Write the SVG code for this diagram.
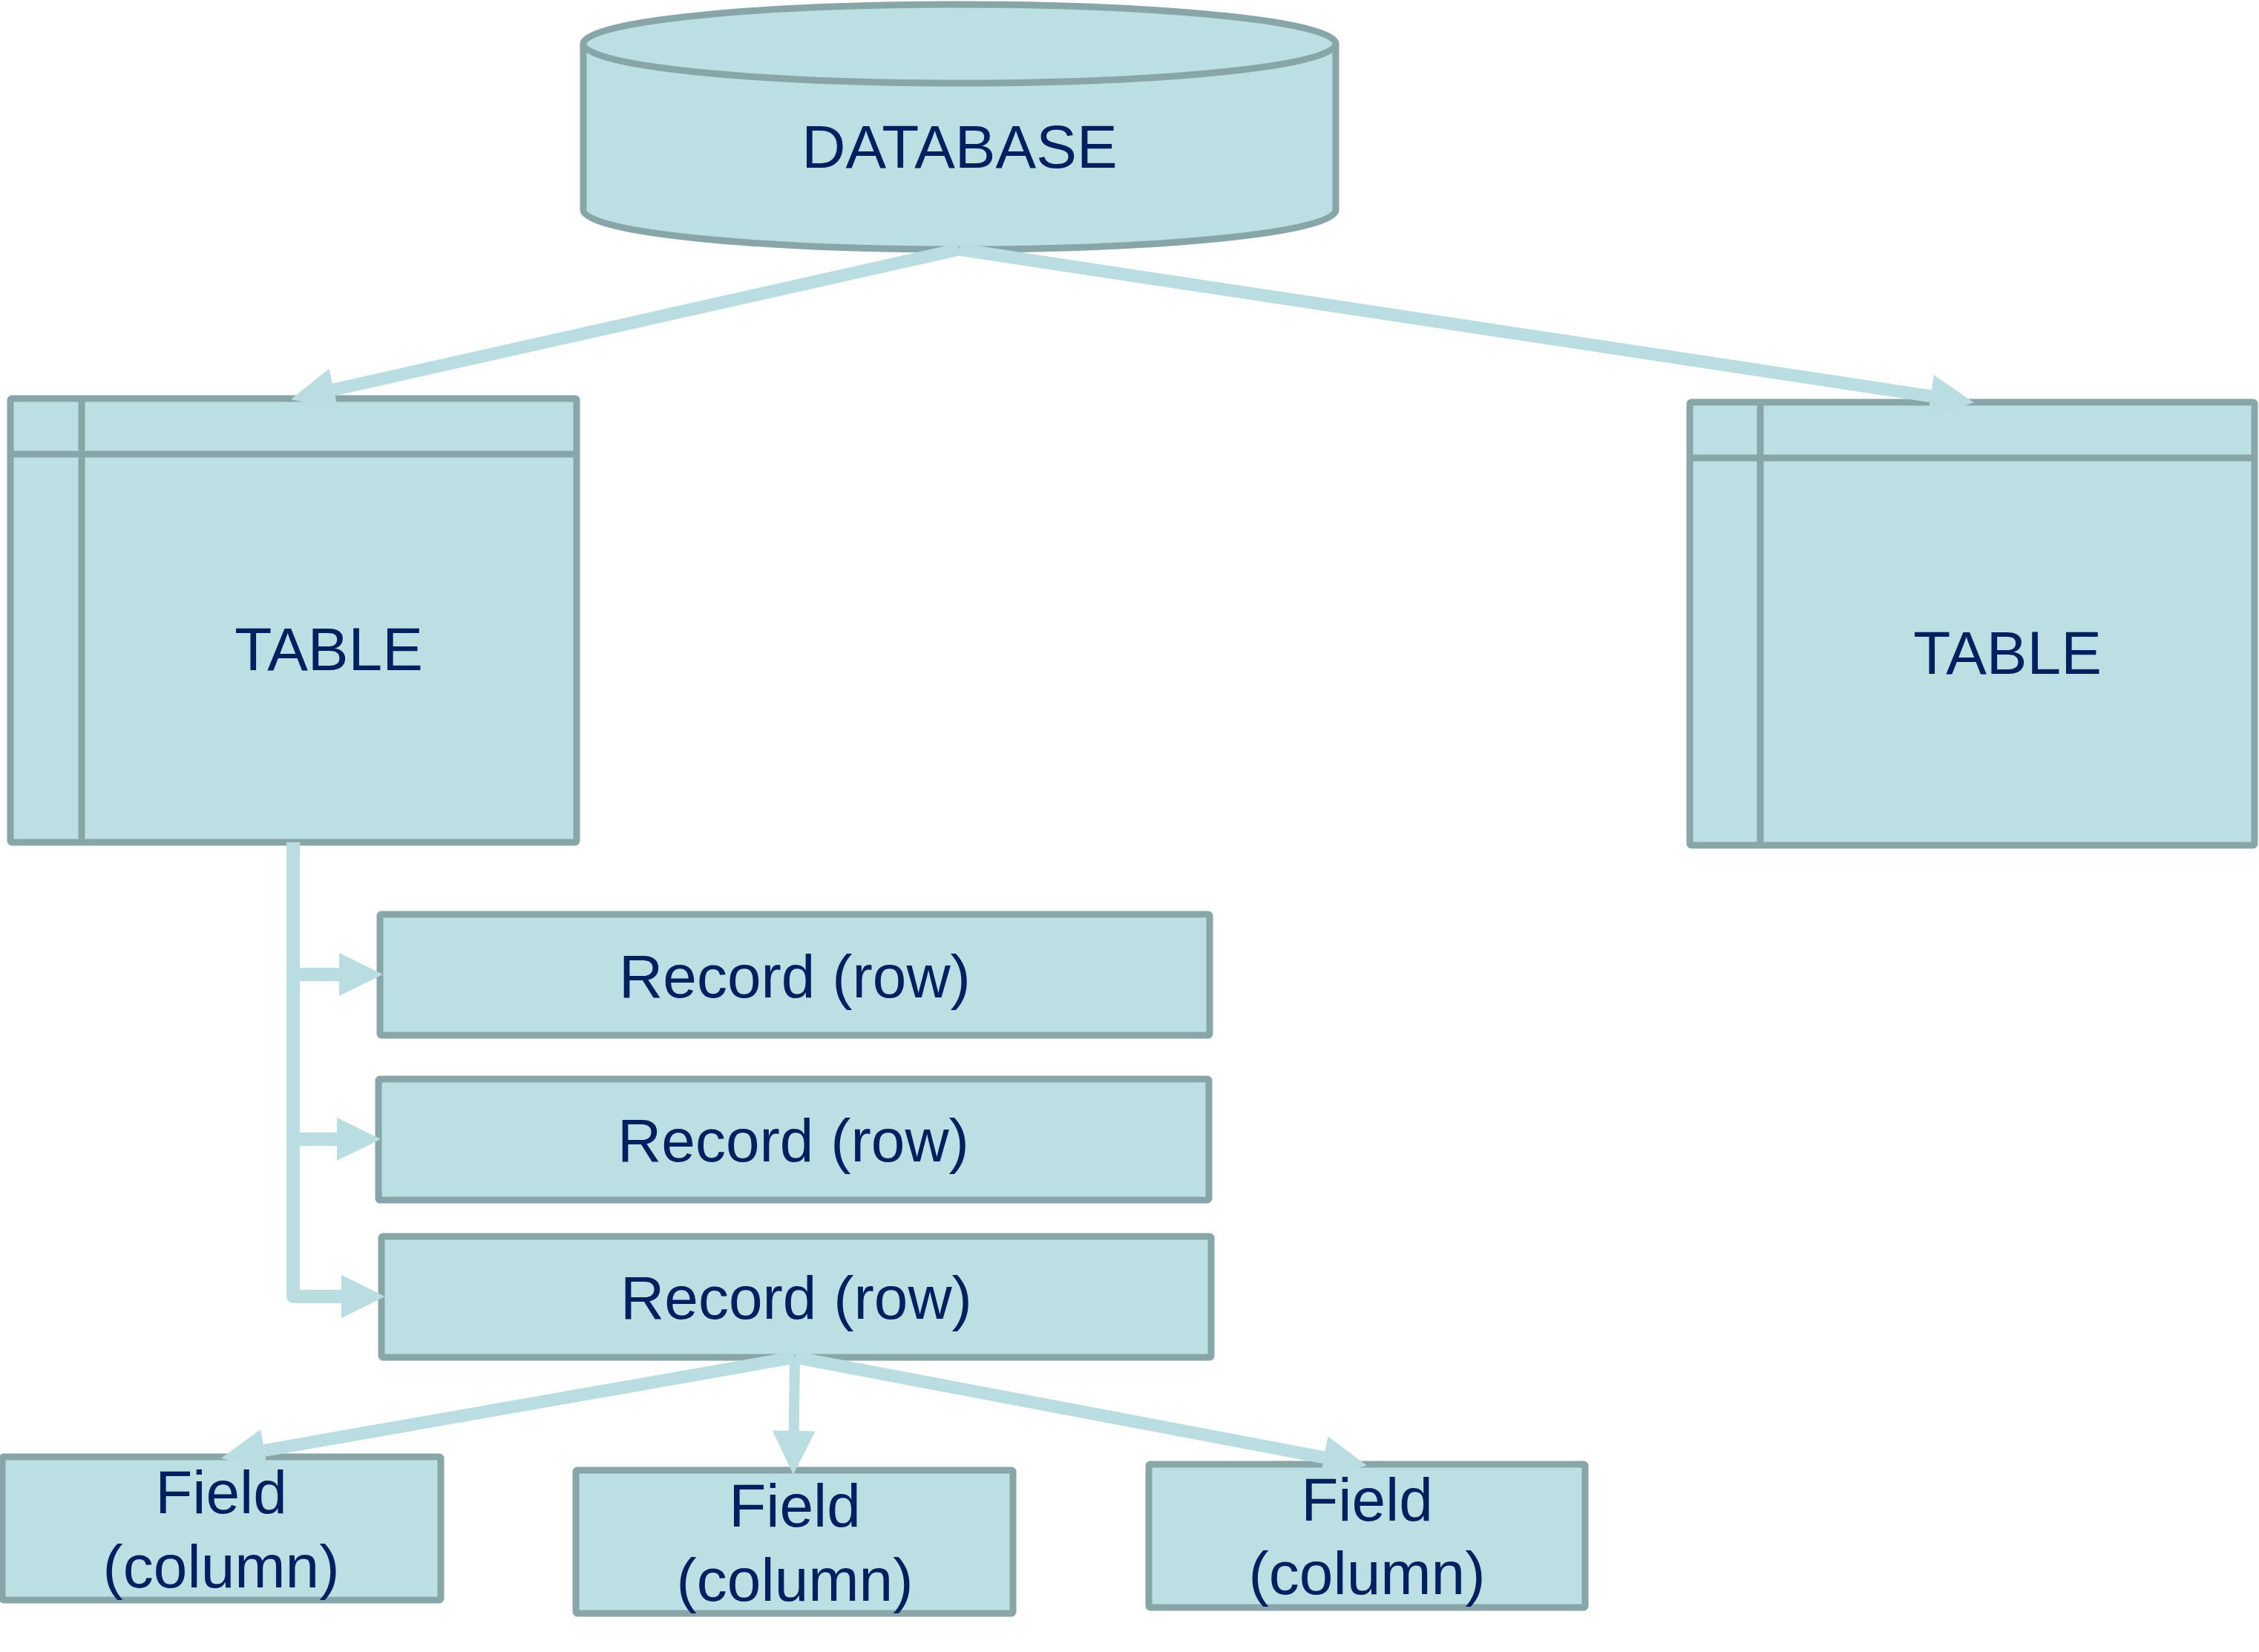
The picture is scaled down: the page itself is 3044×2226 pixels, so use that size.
<svg xmlns="http://www.w3.org/2000/svg" width="3044" height="2226" viewBox="0 0 3044 2226">
<style>
.n{fill:#BBDFE2;stroke:#88A5A8;stroke-width:9;stroke-linejoin:round}
.ln{fill:none;stroke:#88A5A8;stroke-width:9}
.t{font-family:"Liberation Sans",Arial,sans-serif;font-size:82px;fill:#002060;text-anchor:middle}
.c{fill:none;stroke:#B9DDE0;stroke-width:17;marker-end:url(#ah)}
.cm{fill:none;stroke:#B9DDE0;stroke-width:14;marker-end:url(#ah)}
.cb{fill:none;stroke:#B9DDE0;stroke-width:18;stroke-linejoin:round;marker-end:url(#ah)}
</style>
<defs>
<marker id="ah" markerUnits="userSpaceOnUse" markerWidth="60" markerHeight="60" viewBox="0 -28 56 56" refX="0" refY="0" orient="auto" overflow="visible">
<path d="M0,-27 L55,0 L0,27 Z" fill="#B9DDE0"/>
</marker>
</defs>
<rect width="3044" height="2226" fill="#FFFFFF"/>
<g id="database">
<path class="n" d="M786,59 A507,53 0 0 1 1800,59 V283 A507,53 0 0 1 786,283 Z"/>
<path class="ln" d="M786,59 A507,53 0 0 0 1800,59"/>
<text class="t" x="1293" y="226">DATABASE</text>
</g>
<g id="table1">
<rect class="n" x="14" y="537" width="763" height="598" rx="2"/>
<line class="ln" x1="14" y1="612" x2="777" y2="612"/>
<line class="ln" x1="110" y1="537" x2="110" y2="1135"/>
<text class="t" x="443" y="903">TABLE</text>
</g>
<g id="table2">
<rect class="n" x="2277" y="542" width="761" height="597" rx="2"/>
<line class="ln" x1="2277" y1="617" x2="3038" y2="617"/>
<line class="ln" x1="2372" y1="542" x2="2372" y2="1139"/>
<text class="t" x="2705" y="908">TABLE</text>
</g>
<g id="record1">
<rect class="n" x="512" y="1232" width="1118" height="163" rx="2"/>
<text class="t" x="1071" y="1344">Record (row)</text>
</g>
<g id="record2">
<rect class="n" x="510" y="1454" width="1119" height="163" rx="2"/>
<text class="t" x="1069" y="1565">Record (row)</text>
</g>
<g id="record3">
<rect class="n" x="514" y="1666" width="1118" height="163" rx="2"/>
<text class="t" x="1073" y="1777">Record (row)</text>
</g>
<g id="field1">
<rect class="n" x="3" y="1963" width="591" height="193" rx="2"/>
<text class="t" x="298" y="2039">Field</text>
<text class="t" x="298" y="2139">(column)</text>
</g>
<g id="field2">
<rect class="n" x="776" y="1981" width="589" height="193" rx="2"/>
<text class="t" x="1071" y="2057">Field</text>
<text class="t" x="1071" y="2157">(column)</text>
</g>
<g id="field3">
<rect class="n" x="1548" y="1973" width="588" height="193" rx="2"/>
<text class="t" x="1842" y="2049">Field</text>
<text class="t" x="1842" y="2148">(column)</text>
</g>
<g id="connectors">
<path class="c" d="M1292,336 L449.7,525"/>
<path class="c" d="M1292,336 L2601.6,533.8"/>
<path class="cb" d="M395,1135 V1747 H460"/>
<path class="cb" d="M395,1313 H457"/>
<path class="cb" d="M395,1535 H454"/>
<path class="c" d="M1071,1829 L356.2,1954.5"/>
<path class="cm" d="M1071,1829 L1069.7,1928"/>
<path class="c" d="M1071,1829 L1784,1963.8"/>
</g>
</svg>
